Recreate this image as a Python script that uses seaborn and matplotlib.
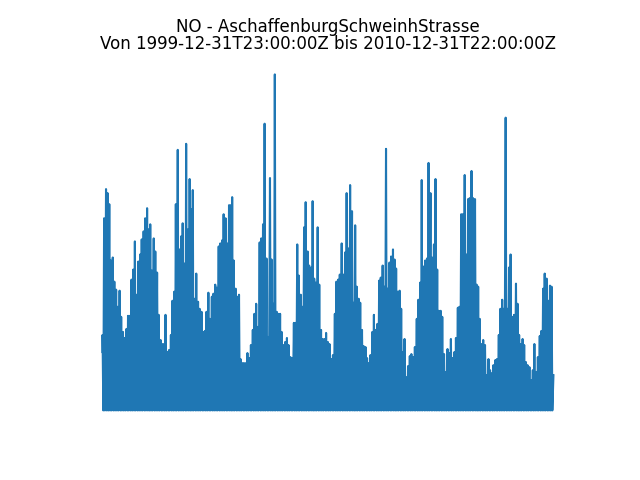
import matplotlib
matplotlib.use("Agg")
import matplotlib.pyplot as plt
import numpy as np
import pandas as pd
import seaborn as sns

station = "AschaffenburgSchweinhStrasse"
component = "NO"
start = "1999-12-31T23:00:00Z"
end = "2010-12-31T22:00:00Z"

# half-monthly peak values (1st and 15th of each month)
no_2000 = [77, 193, 222, 218, 207, 151, 154, 130, 122, 105, 121, 95, 80, 74, 83, 96, 96, 132, 142, 170, 117, 150, 157, 172]
no_2001 = [180, 193, 203, 182, 187, 141, 173, 160, 139, 97, 72, 68, 68, 97, 60, 62, 77, 111, 120, 207, 261, 162, 175, 188]
no_2002 = [148, 267, 182, 232, 202, 221, 113, 138, 110, 103, 100, 80, 81, 100, 119, 93, 115, 118, 127, 124, 165, 168, 171, 197]
no_2003 = [193, 168, 206, 206, 214, 151, 123, 115, 117, 53, 49, 49, 49, 59, 54, 67, 82, 98, 108, 85, 169, 173, 187, 287]
no_2004 = [153, 75, 233, 152, 108, 336, 100, 98, 98, 80, 67, 70, 74, 67, 55, 54, 89, 89, 167, 136, 117, 105, 184, 209]
no_2005 = [160, 146, 144, 210, 133, 129, 184, 127, 82, 73, 73, 79, 70, 68, 53, 57, 98, 130, 132, 137, 168, 137, 159, 218]
no_2006 = [163, 226, 200, 109, 186, 125, 113, 109, 82, 66, 65, 54, 49, 57, 80, 97, 82, 88, 131, 134, 146, 125, 262, 123]
no_2007 = [149, 155, 162, 152, 143, 120, 121, 103, 60, 73, 35, 46, 56, 58, 55, 65, 93, 112, 129, 231, 145, 151, 153, 248]
no_2008 = [218, 154, 167, 232, 142, 101, 101, 95, 58, 40, 63, 59, 73, 54, 60, 74, 104, 105, 197, 197, 236, 157, 212, 213]
no_2009 = [240, 213, 212, 127, 125, 93, 68, 72, 67, 37, 53, 42, 39, 47, 52, 53, 77, 103, 112, 103, 293, 103, 144, 157]
no_2010 = [95, 97, 128, 108, 77, 68, 73, 67, 50, 47, 45, 32, 42, 68, 40, 55, 76, 81, 123, 138, 133, 111, 126, 125]

# hourly lows sit close to zero between the peaks
low_value = 2
first_value = 60
last_value = 37

peaks = np.concatenate([no_2000, no_2001, no_2002, no_2003, no_2004, no_2005,
                        no_2006, no_2007, no_2008, no_2009, no_2010])
peak_times = pd.date_range("2000-01-01", periods=len(peaks), freq="SMS")
low_times = peak_times + pd.Timedelta(days=7)

times = np.empty(2 * len(peaks), dtype="datetime64[ns]")
times[0::2] = peak_times.values
times[1::2] = low_times.values
values = np.empty(2 * len(peaks))
values[0::2] = peaks
values[1::2] = low_value

t0 = pd.Timestamp(start).tz_localize(None)
t1 = pd.Timestamp(end).tz_localize(None)
df = pd.DataFrame({
    "time": np.concatenate([[np.datetime64(t0)], times, [np.datetime64(t1)]]),
    "value": np.concatenate([[first_value], values, [last_value]]),
})

fig, ax = plt.subplots(figsize=(6.4, 4.8), dpi=100)
sns.lineplot(data=df, x="time", y="value", ax=ax, estimator=None, sort=False,
             color="C0", linewidth=1.5)
ax.set_title(f"{component} - {station}\nVon {start} bis {end}", linespacing=0.98)
ax.axis("off")
fig.savefig("out.png")
